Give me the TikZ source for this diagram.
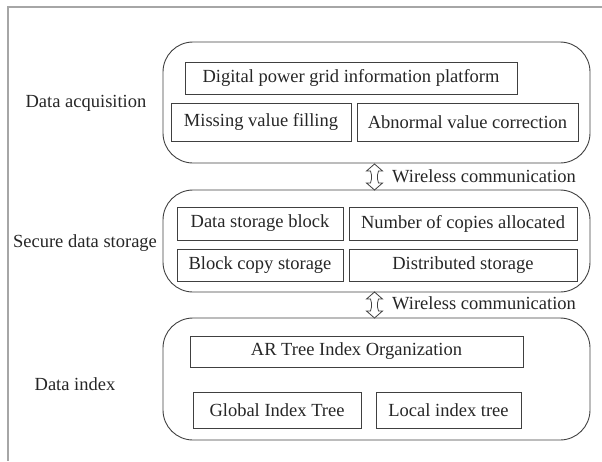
\documentclass[tikz,border=0pt]{standalone}
\usepackage{fontspec}
\setmainfont{Liberation Serif}
\usetikzlibrary{calc}
\begin{document}
\begin{tikzpicture}[x=1pt,y=1pt,
  every node/.style={font=\fontsize{18.5}{22}\selectfont, text=black!85, inner sep=0pt},
  group/.style={draw=black!75, line width=0.9pt, rounded corners=30pt},
  item/.style={draw=black!75, line width=0.9pt},
  dblarrow/.style={draw=black!75, line width=0.8pt, fill=white}
]
\useasboundingbox (0,0) rectangle (602,-461);
\draw[black!35, line width=1.5pt] (602,-7) -- (8,-7) -- (8,-461);
% group boxes
\draw[group] (163,-42) rectangle (590,-163);
\draw[group] (163,-190) rectangle (590,-292);
\draw[group] (163,-318) rectangle (590,-440);
\coordinate (g1b) at (374.5,-164); \coordinate (g2t) at (374.5,-190);
\coordinate (g2b) at (374.5,-292); \coordinate (g3t) at (374.5,-318);
% labels
\node (l1) at (86,-103) {Data acquisition};
\node (l2) at (85,-243) {Secure data storage};
\node (l3) at (75,-384) {Data index};
% items group 1
\draw[item] (185,-62) rectangle (517,-94);  \node (a1) at (351,-78) {Digital power grid information platform};
\draw[item] (171,-103) rectangle (351,-141); \node (a2) at (261,-122) {Missing value filling};
\draw[item] (357,-103) rectangle (578,-141); \node (a3) at (467.5,-122) {Abnormal value correction};
% items group 2
\draw[item] (177,-207) rectangle (343,-240); \node (b1) at (260,-223.5) {Data storage block};
\draw[item] (349,-207) rectangle (577,-240); \node (b2) at (463,-223.5) {Number of copies allocated};
\draw[item] (177,-249) rectangle (343,-281); \node (b3) at (260,-265) {Block copy storage};
\draw[item] (349,-249) rectangle (577,-281); \node (b4) at (463,-265) {Distributed storage};
% items group 3
\draw[item] (190,-336) rectangle (523,-367); \node (c1) at (356.5,-351.5) {AR Tree Index Organization};
\draw[item] (193,-392) rectangle (361,-428); \node (c2) at (277,-410) {Global Index Tree};
\draw[item] (376,-392) rectangle (521,-428); \node (c3) at (448.5,-410) {Local index tree};
% arrows
\draw[dblarrow] (g1b) -- ++(8,-7) -- ++(-4,0) to[out=-90,in=90] ++(-1,-4) -- ($(g2t)+(3,11)$)
  to[out=-90,in=90] ++(1,-4) -- ++(4,0) -- (g2t)
  -- ++(-8,7) -- ++(4,0) to[out=90,in=-90] ++(1,4) -- ($(g1b)+(-3,-11)$)
  to[out=90,in=-90] ++(-1,4) -- ++(-4,0) -- cycle;
\node[anchor=west] (w1) at (392,-176.5) {Wireless communication};
\draw[dblarrow] (g2b) -- ++(8,-7) -- ++(-4,0) to[out=-90,in=90] ++(-1,-4) -- ($(g3t)+(3,11)$)
  to[out=-90,in=90] ++(1,-4) -- ++(4,0) -- (g3t)
  -- ++(-8,7) -- ++(4,0) to[out=90,in=-90] ++(1,4) -- ($(g2b)+(-3,-11)$)
  to[out=90,in=-90] ++(-1,4) -- ++(-4,0) -- cycle;
\node[anchor=west] (w2) at (392,-303) {Wireless communication};
\end{tikzpicture}
\end{document}
